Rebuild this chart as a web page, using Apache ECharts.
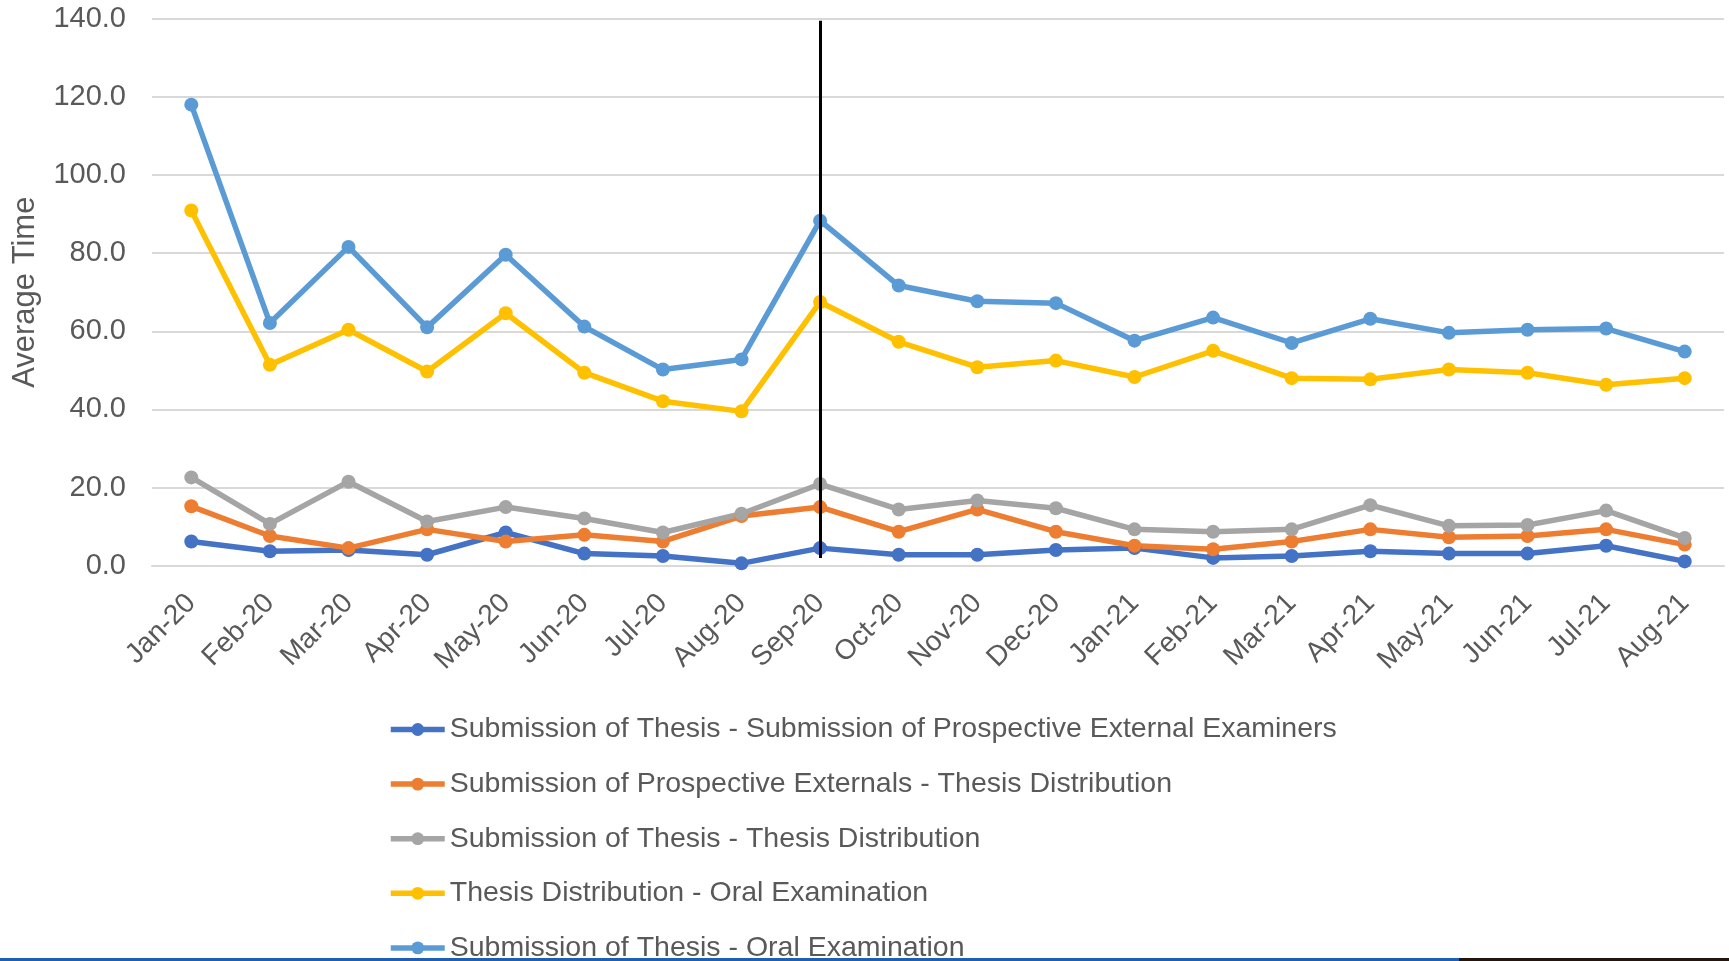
<!DOCTYPE html>
<html>
<head>
<meta charset="utf-8">
<title>Average Time</title>
<script src="https://cdn.jsdelivr.net/npm/echarts@6/dist/echarts.min.js"></script>
<style>
  html, body { margin: 0; padding: 0; background: #fff; }
  #chart { width: 1729px; height: 961px; }
</style>
</head>
<body>
<div id="chart"></div>
<script>
// months on the x axis
const months = ['Jan-20', 'Feb-20', 'Mar-20', 'Apr-20', 'May-20', 'Jun-20', 'Jul-20', 'Aug-20',
  'Sep-20', 'Oct-20', 'Nov-20', 'Dec-20', 'Jan-21', 'Feb-21', 'Mar-21', 'Apr-21',
  'May-21', 'Jun-21', 'Jul-21', 'Aug-21']

const subToExaminers = [6.2, 3.7, 4.0, 2.8, 8.5, 3.1, 2.5, 0.6, 4.5, 2.8, 2.8, 4.0, 4.5, 2.0, 2.5, 3.7, 3.1, 3.1, 5.1, 1.1]
const externalsToDist = [15.2, 7.6, 4.5, 9.3, 6.2, 7.9, 6.2, 12.7, 15.0, 8.7, 14.4, 8.7, 5.1, 4.2, 6.2, 9.3, 7.3, 7.6, 9.3, 5.4]
const subToDist = [22.6, 10.7, 21.5, 11.3, 15.0, 12.1, 8.5, 13.3, 20.9, 14.4, 16.7, 14.7, 9.3, 8.7, 9.3, 15.5, 10.2, 10.4, 14.1, 7.1]
const distToOral = [90.9, 51.4, 60.4, 49.7, 64.6, 49.4, 42.1, 39.5, 67.5, 57.3, 50.8, 52.5, 48.3, 55.0, 48.0, 47.7, 50.2, 49.4, 46.3, 48.0]
const subToOral = [118.0, 62.1, 81.6, 61.0, 79.6, 61.2, 50.2, 52.8, 88.3, 71.7, 67.7, 67.2, 57.6, 63.5, 57.0, 63.2, 59.6, 60.4, 60.7, 54.8]

const seriesNames = [
  'Submission of Thesis - Submission of Prospective External Examiners',
  'Submission of Prospective Externals - Thesis Distribution',
  'Submission of Thesis - Thesis Distribution',
  'Thesis Distribution - Oral Examination',
  'Submission of Thesis - Oral Examination',
]
const seriesData = [subToExaminers, externalsToDist, subToDist, distToOral, subToOral]
const colors = ['#4472C4', '#ED7D31', '#A5A5A5', '#FFC000', '#5B9BD5']

// vertical marker at Sep-20
const markMonth = 'Sep-20'

const font = 'Liberation Sans, Arial, sans-serif'
const textColor = '#595959'

let myChart = echarts.init(document.getElementById('chart'))

let series = seriesData.map((d, i) => {
  return {
    name: seriesNames[i],
    type: 'line',
    data: d,
    symbol: 'circle',
    symbolSize: 14,
    lineStyle: { width: 5.5, color: colors[i] },
    itemStyle: { color: colors[i] },
    animation: false,
  }
})

// black divider line
series[4].markLine = {
  silent: true,
  symbol: 'none',
  label: { show: false },
  lineStyle: { color: '#000', width: 3, type: 'solid' },
  data: [[{ coord: [markMonth, 139.5] }, { coord: [markMonth, 2] }]],
}

// one legend per row so the last row can sit at the bottom edge
let legends = seriesNames.map((name, i) => {
  return {
    orient: 'vertical',
    left: 388,
    top: 715 + i * 54.6,
    padding: 0,
    itemWidth: 54,
    itemHeight: 16,
    lineStyle: { width: 5.5 },
    textStyle: { color: textColor, fontFamily: font, fontSize: 28.5 },
    data: [name],
  }
})

myChart.setOption({
  color: colors,
  animation: false,
  grid: {
    left: 152,
    right: 5,
    top: 18.7,
    height: 547,
  },
  xAxis: {
    type: 'category',
    data: months,
    boundaryGap: true,
    axisLine: { show: true, lineStyle: { color: '#D9D9D9', width: 2 } },
    axisTick: { show: false },
    axisLabel: {
      rotate: 45,
      margin: 33,
      color: textColor,
      fontFamily: font,
      fontSize: 28,
      interval: 0,
    },
  },
  yAxis: {
    type: 'value',
    min: 0,
    max: 140,
    interval: 20,
    name: 'Average Time',
    nameLocation: 'middle',
    nameGap: 111,
    nameTextStyle: { color: textColor, fontFamily: font, fontSize: 31 },
    axisLine: { show: false },
    axisTick: { show: false },
    axisLabel: {
      margin: 26,
      color: textColor,
      fontFamily: font,
      fontSize: 29,
      formatter: (v) => v.toFixed(1),
    },
    splitLine: { lineStyle: { color: '#D9D9D9', width: 2 } },
  },
  legend: legends,
  graphic: [
    { type: 'rect', shape: { x: 0, y: 958, width: 1459, height: 3 }, style: { fill: '#1E5FAF' }, silent: true },
    { type: 'rect', shape: { x: 1459, y: 958, width: 270, height: 3 }, style: { fill: '#24140E' }, silent: true },
  ],
  series: series,
})
</script>
</body>
</html>
